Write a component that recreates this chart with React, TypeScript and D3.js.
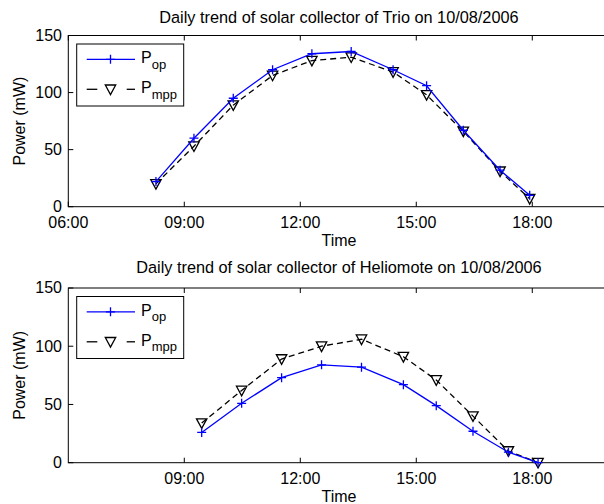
import * as d3 from 'd3'

// Daily measurements, time of day as "HH:MM", power in mW
const trioTimes = ['08:16', '09:15', '10:16', '11:17', '12:18', '13:19', '14:24', '15:16', '16:13', '17:10', '17:56']
const trioPop = [22, 60, 95, 120, 134, 136, 120, 106, 67, 32, 10]
const trioMpp = [20, 53, 89, 115, 128, 131, 118, 98, 66, 31, 7]

const helioTimes = ['09:27', '10:29', '11:31', '12:33', '13:35', '14:40', '15:31', '16:28', '17:23', '18:09']
const helioPop = [26, 51, 73, 84, 82, 67, 49, 27, 9, 0]
const helioMpp = [34, 62, 89, 100, 106, 91, 71, 40, 10, 0]

const yTicks = [0, 50, 100, 150]
const trioXTicks = ['06:00', '09:00', '12:00', '15:00', '18:00']
const helioXTicks = ['09:00', '12:00', '15:00', '18:00']

const FONT = '"Liberation Sans", Arial, Helvetica, sans-serif'
const BLUE = '#0000ff'

const toHours = (s: string) => {
  const [h, m] = s.split(':').map(Number)
  return h + m / 60
}

const plusPath = 'M-4.5,0H4.5M0,-4.5V4.5'
const triPath = 'M-5.2,-4.3L5.2,-4.3L0,5.3Z'

interface PanelProps {
  title: string
  times: string[]
  pop: number[]
  mpp: number[]
  xTicks: string[]
  top: number
  bottom: number
  titleY: number
}

function Panel({ title, times, pop, mpp, xTicks, top, bottom, titleY }: PanelProps) {
  const left = 68.3
  const right = 609.6
  const x = d3.scaleLinear().domain([6, 20]).range([left, right])
  const y = d3.scaleLinear().domain([0, 150]).range([bottom, top])
  const hrs = times.map(toHours)

  const line = d3.line<number>()
    .x((_, i) => x(hrs[i]))
    .y(d => y(d))

  const legX = 76.7
  const legY = top + 8.5
  const row1 = legY + 15.3
  const row2 = legY + 45.3

  return (
    <g fontFamily={FONT} fill="#000">
      <text x={(left + right) / 2} y={titleY} fontSize={16.3} textAnchor="middle">{title}</text>

      {/* axes box */}
      <rect x={left} y={top} width={right - left} height={bottom - top} fill="#fff" stroke="#000" strokeWidth={1} />

      {xTicks.map(t => {
        const xp = x(toHours(t))
        return (
          <g key={t}>
            <line x1={xp} x2={xp} y1={bottom} y2={bottom - 5} stroke="#000" />
            <line x1={xp} x2={xp} y1={top} y2={top + 5} stroke="#000" />
            <text x={xp} y={bottom + 21.5} fontSize={16} textAnchor="middle">{t}</text>
          </g>
        )
      })}
      {yTicks.map(v => (
        <g key={v}>
          <line x1={left} x2={left + 5} y1={y(v)} y2={y(v)} stroke="#000" />
          <text x={62} y={y(v) + 5.3} fontSize={16} textAnchor="end">{v}</text>
        </g>
      ))}

      <text x={(left + right) / 2} y={bottom + 39.5} fontSize={16} textAnchor="middle">Time</text>
      <text transform={`translate(25,${(top + bottom) / 2}) rotate(-90)`} fontSize={16} textAnchor="middle">Power (mW)</text>

      {/* P_mpp */}
      <path d={line(mpp) ?? ''} fill="none" stroke="#000" strokeWidth={1.3} strokeDasharray="6,4" />
      {mpp.map((v, i) => (
        <path key={i} d={triPath} transform={`translate(${x(hrs[i])},${y(v)})`} fill="none" stroke="#000" strokeWidth={1.3} />
      ))}

      {/* P_op */}
      <path d={line(pop) ?? ''} fill="none" stroke={BLUE} strokeWidth={1.3} />
      {pop.map((v, i) => (
        <path key={i} d={plusPath} transform={`translate(${x(hrs[i])},${y(v)})`} fill="none" stroke={BLUE} strokeWidth={1.3} />
      ))}

      {/* legend */}
      <rect x={legX} y={legY} width={107} height={62} fill="#fff" stroke="#000" strokeWidth={1} />
      <line x1={86.7} x2={135} y1={row1} y2={row1} stroke={BLUE} strokeWidth={1.3} />
      <path d={plusPath} transform={`translate(110.5,${row1})`} stroke={BLUE} strokeWidth={1.3} />
      <text x={141} y={row1 + 4} fontSize={16}>P<tspan fontSize={13} dy={5.5}>op</tspan></text>

      <line x1={86.7} x2={97.3} y1={row2} y2={row2} stroke="#000" strokeWidth={1.3} />
      <line x1={126.7} x2={135} y1={row2} y2={row2} stroke="#000" strokeWidth={1.3} />
      <path d={triPath} transform={`translate(110.5,${row2})`} fill="none" stroke="#000" strokeWidth={1.3} />
      <text x={141} y={row2 + 4} fontSize={16}>P<tspan fontSize={13} dy={5.5}>mpp</tspan></text>
    </g>
  )
}

export default function App() {
  return (
    <svg width={604} height={504} style={{ position: 'absolute', left: 0, top: 0, background: '#fff' }}>
      <rect width={604} height={504} fill="#fff" />
      <Panel
        title="Daily trend of solar collector of Trio on 10/08/2006"
        times={trioTimes}
        pop={trioPop}
        mpp={trioMpp}
        xTicks={trioXTicks}
        top={35.5}
        bottom={206.7}
        titleY={23.3}
      />
      <Panel
        title="Daily trend of solar collector of Heliomote on 10/08/2006"
        times={helioTimes}
        pop={helioPop}
        mpp={helioMpp}
        xTicks={helioXTicks}
        top={288}
        bottom={462.7}
        titleY={273.3}
      />
    </svg>
  )
}
